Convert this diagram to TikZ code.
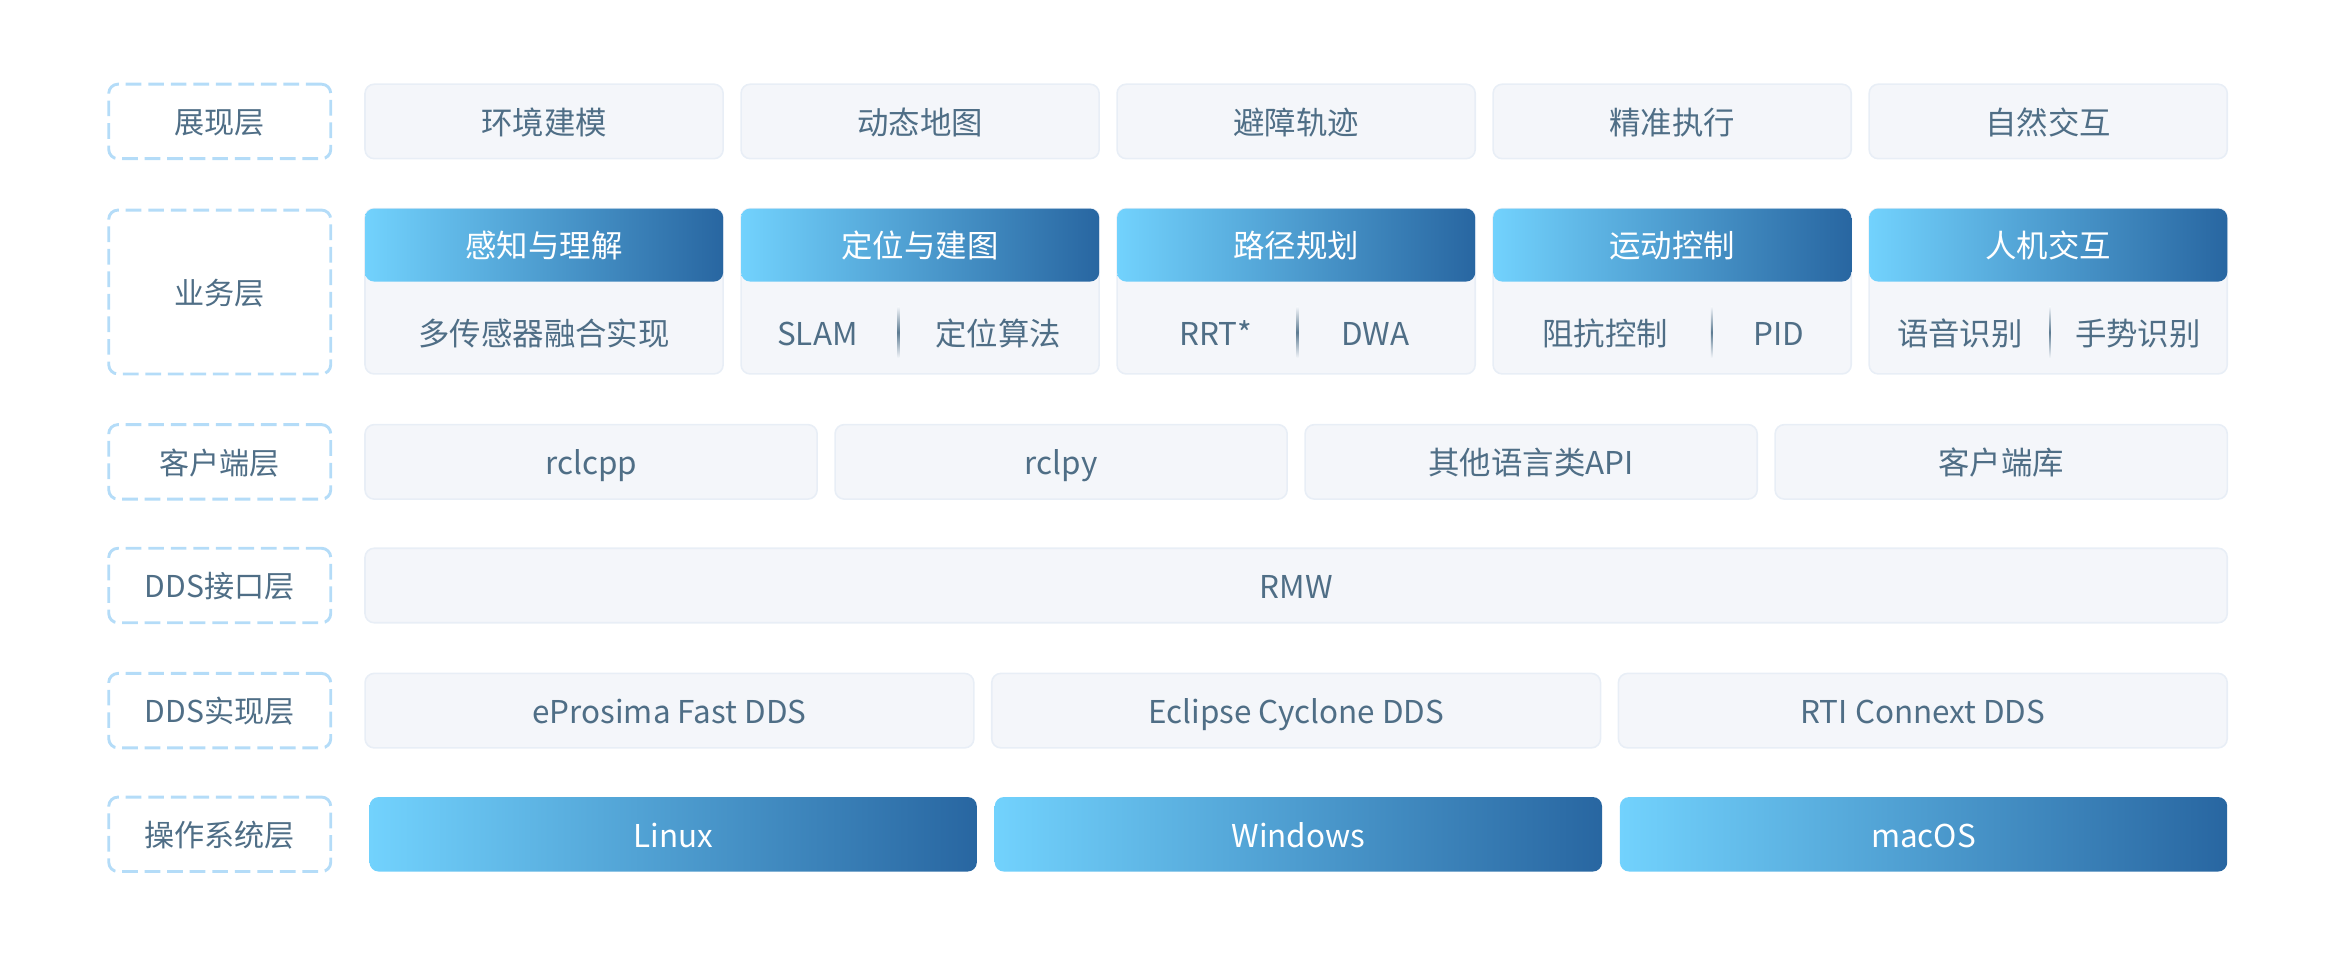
\documentclass[tikz,border=0pt]{standalone}
\usepackage{fontspec}
\newfontfamily\cjkfont{Noto Sans CJK SC}
\definecolor{layerline}{RGB}{180, 220, 248}
\definecolor{layertext}{RGB}{79, 110, 134}
\definecolor{cellfill}{RGB}{244, 246, 250}
\definecolor{cellline}{RGB}{232, 238, 246}
\definecolor{gradleft}{RGB}{114, 210, 253}
\definecolor{gradright}{RGB}{40, 102, 161}
\definecolor{divline}{RGB}{91, 122, 145}
\usepackage{tikz}
\usetikzlibrary{positioning}

\tikzset{
  layerbox/.style={draw=layerline, fill=white, line width=1.1pt, dash pattern=on 6pt off 2.6pt,
    rounded corners=3.5pt, minimum width=2.98cm, minimum height=1cm, text=layertext,
    text height=10.4pt, text depth=1pt, font=\cjkfont\fontsize{11.5}{13}\selectfont},
  cellbox/.style={draw=cellline, fill=cellfill, line width=0.6pt, rounded corners=3.5pt,
    minimum height=1cm, text=layertext, text height=10.8pt, text depth=1pt,
    font=\cjkfont\fontsize{12}{14}\selectfont},
  headbox/.style={left color=gradleft, right color=gradright, rounded corners=3.5pt,
    minimum height=0.98cm, text=white, text height=10.8pt, text depth=1pt,
    font=\cjkfont\fontsize{12}{14}\selectfont},
  subtext/.style={inner sep=0pt, text height=10.8pt, text depth=1pt, text=layertext,
    font=\cjkfont\fontsize{12}{14}\selectfont},
  divbar/.style={top color=cellfill, bottom color=cellfill, middle color=divline,
    minimum width=0.025cm, minimum height=0.69cm, inner sep=0pt}
}

\begin{document}
\begin{tikzpicture}
  \useasboundingbox (0, 0) rectangle (31.36, -12.84);

  % 展现层
  \node[layerbox] (lshow) at (2.95, -1.63) {展现层};
  \node[cellbox, minimum width=4.808cm] (show1) at (7.304, -1.63) {环境建模};
  \node[cellbox, minimum width=4.808cm] (show2) at (12.352, -1.63) {动态地图};
  \node[cellbox, minimum width=4.808cm] (show3) at (17.40, -1.63) {避障轨迹};
  \node[cellbox, minimum width=4.808cm] (show4) at (22.448, -1.63) {精准执行};
  \node[cellbox, minimum width=4.808cm] (show5) at (27.496, -1.63) {自然交互};

  % 业务层
  \node[layerbox, minimum height=2.2cm] (lbiz) at (2.95, -3.92) {业务层};
  \node[cellbox, minimum width=4.808cm, minimum height=2.22cm] (biz1) at (7.304, -3.91) {};
  \node[cellbox, minimum width=4.808cm, minimum height=2.22cm] (biz2) at (12.352, -3.91) {};
  \node[cellbox, minimum width=4.808cm, minimum height=2.22cm] (biz3) at (17.40, -3.91) {};
  \node[cellbox, minimum width=4.808cm, minimum height=2.22cm] (biz4) at (22.448, -3.91) {};
  \node[cellbox, minimum width=4.808cm, minimum height=2.22cm] (biz5) at (27.496, -3.91) {};

  \node[headbox, minimum width=4.808cm] (head1) at (7.304, -3.29) {感知与理解};
  \node[headbox, minimum width=4.808cm] (head2) at (12.352, -3.29) {定位与建图};
  \node[headbox, minimum width=4.808cm] (head3) at (17.40, -3.29) {路径规划};
  \node[headbox, minimum width=4.808cm] (head4) at (22.448, -3.29) {运动控制};
  \node[headbox, minimum width=4.808cm] (head5) at (27.496, -3.29) {人机交互};

  \node[subtext] (fuse) at (7.304, -4.46) {多传感器融合实现};

  \node[divbar] (div2) at (12.06, -4.46) {};
  \node[subtext, left=0.52cm of div2] (slam) {SLAM};
  \node[subtext, right=0.47cm of div2] (locate) {定位算法};

  \node[divbar] (div3) at (17.42, -4.46) {};
  \node[subtext, left=0.58cm of div3] (rrt) {RRT*};
  \node[subtext, right=0.56cm of div3] (dwa) {DWA};

  \node[divbar] (div4) at (22.98, -4.46) {};
  \node[subtext, left=0.56cm of div4] (impct) {阻抗控制};
  \node[subtext, right=0.53cm of div4] (pid) {PID};

  \node[divbar] (div5) at (27.52, -4.46) {};
  \node[subtext, left=0.34cm of div5] (voice) {语音识别};
  \node[subtext, right=0.31cm of div5] (gesture) {手势识别};

  % 客户端层
  \node[layerbox] (lclient) at (2.95, -6.20) {客户端层};
  \node[cellbox, minimum width=6.07cm] (cpp) at (7.935, -6.20) {rclcpp};
  \node[cellbox, minimum width=6.07cm] (py) at (14.245, -6.20) {rclpy};
  \node[cellbox, minimum width=6.07cm] (otherapi) at (20.555, -6.20) {其他语言类API};
  \node[cellbox, minimum width=6.07cm] (clientlib) at (26.865, -6.20) {客户端库};

  % DDS接口层
  \node[layerbox] (lrmw) at (2.95, -7.86) {DDS接口层};
  \node[cellbox, minimum width=25cm] (rmw) at (17.40, -7.86) {RMW};

  % DDS实现层
  \node[layerbox] (ldds) at (2.95, -9.54) {DDS实现层};
  \node[cellbox, minimum width=8.173cm] (fastdds) at (8.987, -9.54) {eProsima Fast DDS};
  \node[cellbox, minimum width=8.173cm] (cyclone) at (17.40, -9.54) {Eclipse Cyclone DDS};
  \node[cellbox, minimum width=8.173cm] (connext) at (25.813, -9.54) {RTI Connext DDS};

  % 操作系统层
  \node[layerbox] (los) at (2.95, -11.20) {操作系统层};
  \node[headbox, minimum width=8.153cm, minimum height=1cm] (linux) at (9.037, -11.20) {Linux};
  \node[headbox, minimum width=8.153cm, minimum height=1cm] (windows) at (17.43, -11.20) {Windows};
  \node[headbox, minimum width=8.153cm, minimum height=1cm] (macos) at (25.823, -11.20) {macOS};
\end{tikzpicture}
\end{document}
